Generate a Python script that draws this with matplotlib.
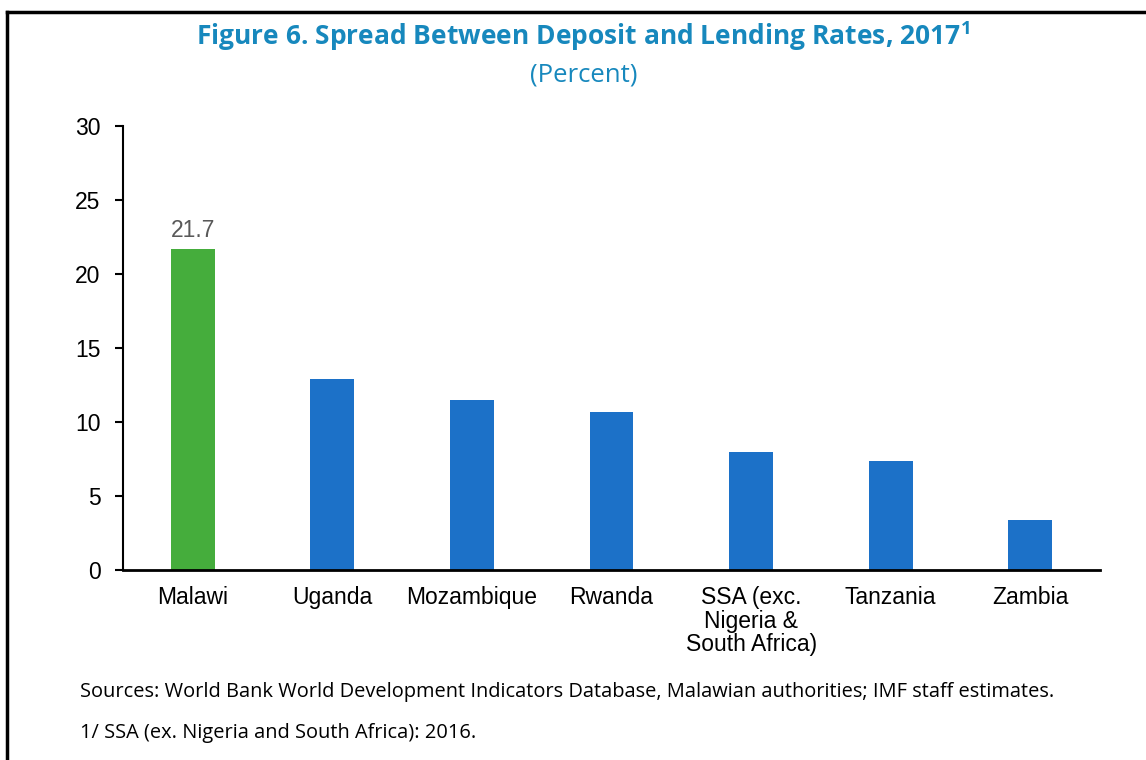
import numpy as np
import matplotlib.pyplot as plt
from matplotlib.lines import Line2D

countries = ["Malawi", "Uganda", "Mozambique", "Rwanda",
             "SSA (exc.\nNigeria &\nSouth Africa)", "Tanzania", "Zambia"]
spread = [21.7, 12.9, 11.5, 10.7, 8.0, 7.4, 3.4]
bar_colors = ["#45AD3C", "#1C71C8", "#1C71C8", "#1C71C8", "#1C71C8", "#1C71C8", "#1C71C8"]
yticks = [0, 5, 10, 15, 20, 25, 30]

title_color = "#1788BD"
plt.rcParams['font.family'] = ['Liberation Sans', 'DejaVu Sans']
plt.rcParams['mathtext.fontset'] = 'custom'
plt.rcParams['mathtext.rm'] = 'Open Sans'
plt.rcParams['mathtext.bf'] = 'Open Sans:bold'

fig = plt.figure(figsize=(11.46, 7.6), dpi=100)
ax = fig.add_axes([0.1073, 0.25, 0.8526, 0.584])

x = np.arange(len(countries))
ax.bar(x, spread, width=0.315, color=bar_colors)
ax.set_xlim(-0.5, len(countries) - 0.5)
ax.set_ylim(0, 30)
ax.set_yticks(yticks)
ax.set_xticks(x)
ax.set_xticklabels(countries, fontsize=16.5, linespacing=1.03)
ax.tick_params(axis='y', labelsize=16.5, length=6, width=1.5, pad=10)
ax.tick_params(axis='x', length=0, pad=11.5)
for s in ["top", "right"]:
    ax.spines[s].set_visible(False)
ax.spines["left"].set_linewidth(1.5)
ax.spines["bottom"].set_linewidth(2)

# value label on the Malawi bar
ax.text(x[0], spread[0] + 0.5, f"{spread[0]:.1f}", ha="center", va="bottom",
        fontsize=16.5, color="#595959")

# titles and notes
fig.text(0.509, 0.953, r"Figure 6. Spread Between Deposit and Lending Rates, 2017$^{\mathbf{1}}$",
         ha="center", va="center", fontsize=19, fontweight="bold",
         color=title_color, family="Open Sans")
fig.text(0.509, 0.901, "(Percent)", ha="center", va="center", fontsize=18.5,
         color=title_color, family="Open Sans")
fig.text(0.07, 0.089, "Sources: World Bank World Development Indicators Database, "
         "Malawian authorities; IMF staff estimates.", ha="left", va="center",
         fontsize=14.4, family="Open Sans")
fig.text(0.07, 0.036, "1/ SSA (ex. Nigeria and South Africa): 2016.", ha="left",
         va="center", fontsize=14.4, family="Open Sans")

# frame lines on the left and top
fig.add_artist(Line2D([0.0065, 0.0065], [0, 0.984], color="black", lw=2.5,
                      transform=fig.transFigure))
fig.add_artist(Line2D([0.0065, 1.0], [0.984, 0.984], color="black", lw=2.5,
                      transform=fig.transFigure))

fig.savefig("out.png", dpi=100)
